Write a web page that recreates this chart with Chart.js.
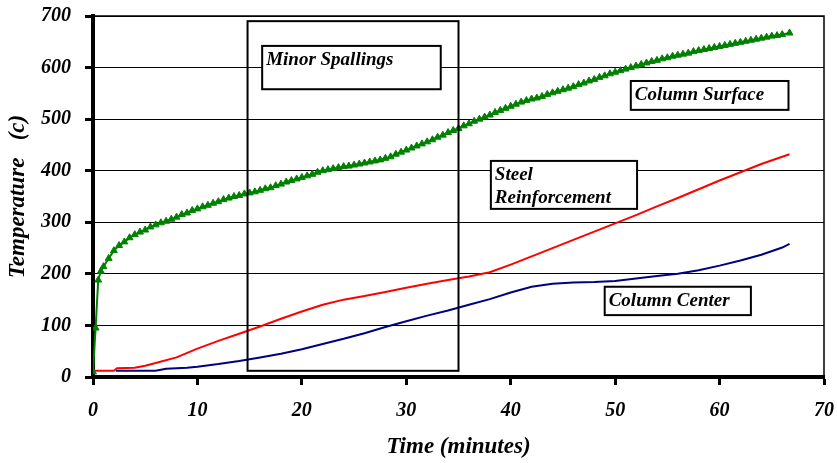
<!DOCTYPE html>
<html>
<head>
<meta charset="utf-8">
<script src="https://cdn.jsdelivr.net/npm/chart.js@4.4.0/dist/chart.umd.min.js"></script>
<style>
  html, body { margin: 0; padding: 0; background: #fff; }
  #wrap { width: 837px; height: 463px; }
</style>
</head>
<body>
<div id="wrap"><canvas id="tempChart" width="837" height="463"></canvas></div>
<script>
// time (minutes) and temperature readings
const timeSurface = [0, 0.25, 0.5, 0.75, 1, 1.5, 2, 2.5, 3, 3.5, 4, 4.5, 5, 5.5, 6, 6.5, 7, 7.5, 8, 8.5, 9, 9.5, 10,
  10.5, 11, 11.5, 12, 12.5, 13, 13.5, 14, 14.5, 15, 15.5, 16, 16.5, 17, 17.5, 18, 18.5, 19, 19.5, 20,
  20.5, 21, 21.5, 22, 22.5, 23, 23.5, 24, 24.5, 25, 25.5, 26, 26.5, 27, 27.5, 28, 28.5, 29, 29.5, 30,
  30.5, 31, 31.5, 32, 32.5, 33, 33.5, 34, 34.5, 35, 35.5, 36, 36.5, 37, 37.5, 38, 38.5, 39, 39.5, 40,
  40.5, 41, 41.5, 42, 42.5, 43, 43.5, 44, 44.5, 45, 45.5, 46, 46.5, 47, 47.5, 48, 48.5, 49, 49.5, 50,
  50.5, 51, 51.5, 52, 52.5, 53, 53.5, 54, 54.5, 55, 55.5, 56, 56.5, 57, 57.5, 58, 58.5, 59, 59.5, 60,
  60.5, 61, 61.5, 62, 62.5, 63, 63.5, 64, 64.5, 65, 65.5, 66, 66.7];
const tempSurface = [10, 95, 188, 205, 214, 230, 245, 255, 262, 270, 276, 281, 285, 291, 295, 299, 302, 306, 310, 315, 318, 323, 326,
  330, 333, 337, 340, 344, 347, 350, 352, 355, 357, 359, 362, 365, 367, 371, 374, 378, 381, 384, 387,
  390, 393, 397, 400, 402, 404, 406, 408, 409, 411, 413, 415, 417, 419, 421, 424, 427, 432, 436, 440,
  444, 448, 452, 456, 460, 465, 469, 474, 478, 482, 487, 491, 496, 500, 504, 508, 513, 517, 521, 525,
  529, 533, 536, 539, 541, 544, 548, 551, 554, 557, 560, 563, 567, 570, 574, 577, 581, 584, 588, 591,
  594, 597, 600, 603, 606, 609, 612, 614, 617, 619, 622, 624, 626, 628, 631, 633, 635, 637, 639, 641,
  643, 645, 647, 649, 651, 653, 655, 657, 659, 661, 662, 664, 667];

const timeSteel = [0, 2, 2.3, 4, 5, 6, 8, 10, 12, 14, 16, 18, 20, 22, 24, 26, 28, 30, 32, 34, 36, 38, 40, 42, 44, 46, 48, 50,
  52, 54, 56, 58, 60, 62, 64, 66, 66.7];
const tempSteel = [12, 12, 17, 18, 22, 27, 38, 55, 70, 84, 98, 113, 127, 140, 150, 157, 165, 173, 181, 188, 195, 203, 218, 234, 250, 266, 282, 298,
  314, 331, 347, 364, 381, 397, 413, 427, 432];

const timeCenter = [2.2, 4, 6, 7, 9, 10, 12, 14, 16, 18, 20, 22, 24, 26, 28, 30, 32, 34, 36, 38, 40, 42, 44, 46, 48, 50,
  52, 54, 56, 58, 60, 62, 64, 66, 66.7];
const tempCenter = [12, 12, 12, 16, 18, 20, 25, 31, 38, 45, 54, 64, 74, 85, 97, 108, 119, 129, 140, 151, 164, 175, 181, 183, 184, 186,
  191, 196, 200, 207, 216, 226, 237, 251, 258];

const seriesNames = ['Column Surface', 'Steel Reinforcement', 'Column Center'];
const xTickValues = [0, 10, 20, 30, 40, 50, 60, 70];
const yTickValues = [0, 100, 200, 300, 400, 500, 600, 700];

// text boxes on the plot (data units)
const noteText = [['Minor Spallings'], ['Steel', 'Reinforcement'], ['Column Center'], ['Column Surface']];
const noteX0 = [16.2, 38.1, 49.0, 51.5];
const noteX1 = [33.3, 52.1, 63.0, 66.6];
const noteTop = [642, 419, 175, 574];
const noteBottom = [558, 326, 120, 518];
// the spalling period frame
const zoneX = [14.8, 35.0];
const zoneY = [12, 690];

function pairs(xs, ys) {
    return xs.map((x, i) => ({ x: x, y: ys[i] }));
}

const serif = "'Liberation Serif', 'Times New Roman', serif";

const notesPlugin = {
    id: 'notes',
    afterDatasetsDraw(chart) {
        const ctx = chart.ctx;
        const xs = chart.scales.x;
        const ys = chart.scales.y;
        const area = chart.chartArea;
        ctx.save();
        // thin frame on top / right of plot area
        ctx.strokeStyle = '#000';
        ctx.lineWidth = 1.5;
        ctx.beginPath();
        ctx.moveTo(area.left, area.top);
        ctx.lineTo(area.right, area.top);
        ctx.lineTo(area.right, area.bottom);
        ctx.stroke();

        // spalling frame
        ctx.lineWidth = 2;
        const zx0 = xs.getPixelForValue(zoneX[0]);
        const zx1 = xs.getPixelForValue(zoneX[1]);
        const zy0 = ys.getPixelForValue(zoneY[1]);
        const zy1 = ys.getPixelForValue(zoneY[0]);
        ctx.strokeRect(zx0, zy0, zx1 - zx0, zy1 - zy0);

        // labelled boxes
        ctx.font = 'italic bold 19px ' + serif;
        ctx.textAlign = 'left';
        ctx.textBaseline = 'alphabetic';
        for (let i = 0; i < noteText.length; i++) {
            const bx0 = xs.getPixelForValue(noteX0[i]);
            const bx1 = xs.getPixelForValue(noteX1[i]);
            const by0 = ys.getPixelForValue(noteTop[i]);
            const by1 = ys.getPixelForValue(noteBottom[i]);
            ctx.fillStyle = '#fff';
            ctx.fillRect(bx0, by0, bx1 - bx0, by1 - by0);
            ctx.strokeRect(bx0, by0, bx1 - bx0, by1 - by0);
            ctx.fillStyle = '#000';
            noteText[i].forEach((line, j) => {
                ctx.fillText(line, bx0 + 4, by0 + 19 + j * 23);
            });
        }
        ctx.restore();
    }
};

const ctx = document.getElementById('tempChart').getContext('2d');
const chart = new Chart(ctx, {
    type: 'line',
    data: {
        datasets: [{
            label: seriesNames[0],
            data: pairs(timeSurface, tempSurface),
            borderColor: '#008000',
            backgroundColor: '#008000',
            borderWidth: 2,
            pointStyle: 'triangle',
            pointRadius: 4,
            pointBorderWidth: 1,
            pointBorderColor: '#008000',
            pointBackgroundColor: '#008000',
            fill: false
        }, {
            label: seriesNames[1],
            data: pairs(timeSteel, tempSteel),
            borderColor: '#ff0000',
            borderWidth: 2,
            pointRadius: 0,
            fill: false
        }, {
            label: seriesNames[2],
            data: pairs(timeCenter, tempCenter),
            borderColor: '#000080',
            borderWidth: 2,
            pointRadius: 0,
            fill: false
        }]
    },
    options: {
        responsive: false,
        animation: false,
        layout: { padding: { left: 0, top: 16, right: 13, bottom: 0 } },
        plugins: {
            legend: { display: false },
            tooltip: { enabled: false }
        },
        scales: {
            x: {
                type: 'linear',
                min: 0,
                max: 70,
                afterFit: (scale) => {
                    scale.height = 86;
                    scale.paddingLeft = 0;
                    scale.paddingRight = 0;
                },
                afterBuildTicks: (scale) => { scale.ticks = xTickValues.map(v => ({ value: v })); },
                border: { color: '#000', width: 4 },
                grid: {
                    drawOnChartArea: false,
                    drawTicks: true,
                    tickLength: 8,
                    tickWidth: 3,
                    tickColor: '#000'
                },
                ticks: {
                    color: '#000',
                    padding: 14,
                    maxRotation: 0,
                    font: { family: serif, size: 20, style: 'italic', weight: 'bold' }
                },
                title: {
                    display: true,
                    text: 'Time (minutes)',
                    color: '#000',
                    padding: { top: 0, bottom: 2 },
                    font: { family: serif, size: 23, style: 'italic', weight: 'bold' }
                }
            },
            y: {
                min: 0,
                max: 700,
                afterFit: (scale) => {
                    scale.width = 93;
                    scale.paddingTop = 0;
                    scale.paddingBottom = 0;
                },
                afterBuildTicks: (scale) => { scale.ticks = yTickValues.map(v => ({ value: v })); },
                border: { color: '#000', width: 4 },
                grid: {
                    color: '#000',
                    lineWidth: 1,
                    drawTicks: true,
                    tickLength: 8,
                    tickWidth: 3,
                    tickColor: '#000'
                },
                ticks: {
                    color: '#000',
                    padding: 14,
                    font: { family: serif, size: 20, style: 'italic', weight: 'bold' }
                },
                title: {
                    display: true,
                    text: 'Temperature   (c)',
                    color: '#000',
                    padding: { top: 4, bottom: 0 },
                    font: { family: serif, size: 23, style: 'italic', weight: 'bold' }
                }
            }
        }
    },
    plugins: [notesPlugin]
});
</script>
</body>
</html>
